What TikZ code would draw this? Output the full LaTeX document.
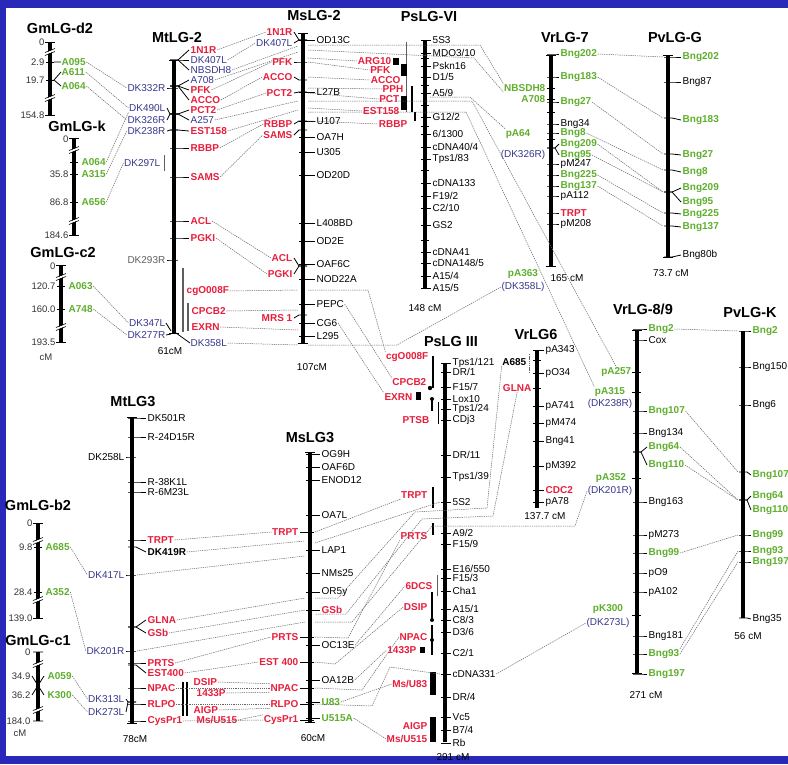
\documentclass[tikz,border=0pt]{standalone}
\usepackage{fontspec}
\setmainfont{Liberation Sans}
\definecolor{fondo}{RGB}{40,40,185}
\definecolor{rojo}{RGB}{232,30,60}
\definecolor{verde}{RGB}{95,175,45}
\definecolor{azul}{RGB}{55,55,140}
\definecolor{gris}{RGB}{95,95,95}
\tikzset{
    cromo/.style={line width=4pt},
    marca/.style={line width=0.8pt},
    segmento/.style={line width=1.3pt},
    mnegro/.style={inner sep=0.5pt, font=\fontsize{10}{11}\selectfont},
    mnegrob/.style={inner sep=0.5pt, font=\bfseries\fontsize{10}{11}\selectfont},
    mrojo/.style={inner sep=0.5pt, text=rojo, font=\bfseries\fontsize{10}{11}\selectfont},
    mverde/.style={inner sep=0.5pt, text=verde, font=\bfseries\fontsize{10}{11}\selectfont},
    mazul/.style={inner sep=0.5pt, text=azul, font=\fontsize{10}{11}\selectfont},
    mgris/.style={inner sep=0.5pt, text=gris, font=\fontsize{10}{11}\selectfont},
    mnum/.style={inner sep=0.5pt, text=black!80, font=\fontsize{9.5}{10}\selectfont},
    titulo/.style={inner sep=1pt, font=\bfseries\fontsize{14.5}{16}\selectfont},
    pie/.style={font=\fontsize{10}{11}\selectfont},
    enlace/.style={black!60, line width=0.5pt, dash pattern=on 1.3pt off 0.9pt}
}

\begin{document}
\begin{tikzpicture}[x=1pt, y=-1pt]

    % Fondo
    \useasboundingbox (0,0) rectangle (788,764);
    \fill[fondo] (0,0) rectangle (788,764);
    \fill[white] (6,8) rectangle (788,756);

    % GmLG-d2
    \node[titulo] (td2) at (60,28) {GmLG-d2};
    \draw[cromo] (50,42) -- (50,115);
    \draw[marca] (45,42) -- (55,42) (45,115) -- (55,115) (46,62) -- (54,62) (46,80) -- (54,80);
    \foreach \y/\txt [count=\i] in {42/0, 62/2.9, 80/19.7, 115/154.8}
        \node[mnum, anchor=east] (d2n\i) at (45,\y) {\txt};
    \node[mverde, anchor=west] (d2r1) at (61,62) {A095};
    \node[mverde, anchor=west] (d2r2) at (61,72) {A611};
    \node[mverde, anchor=west] (d2r3) at (61,86) {A064};
    \draw[marca] (54,62) -- (d2r1.west) (54,80) -- (d2r2.west) (54,80) -- (d2r3.west);
    \foreach \y in {52,98} {
        \draw[white, line width=2pt] (45,\y+2) -- (55,\y-2);
        \draw[line width=0.6pt] (45,\y+3.5) -- (55,\y-0.5) (45,\y+0.5) -- (55,\y-3.5);
    }

    % GmLG-k
    \node[titulo] (tk) at (77,126) {GmLG-k};
    \draw[cromo] (74,138) -- (74,235);
    \draw[marca] (69,138) -- (79,138) (69,235) -- (79,235) (70,162) -- (78,162) (70,174) -- (78,174) (70,202) -- (78,202);
    \foreach \y/\txt [count=\i] in {139/0, 174/35.8, 202/86.8, 235/184.6}
        \node[mnum, anchor=east] (kn\i) at (69,\y) {\txt};
    \node[mverde, anchor=west] (kr1) at (81,162) {A064};
    \node[mverde, anchor=west] (kr2) at (81,174) {A315};
    \node[mverde, anchor=west] (kr3) at (81,202) {A656};
    \foreach \y in {150,221} {
        \draw[white, line width=2pt] (69,\y+2) -- (79,\y-2);
        \draw[line width=0.6pt] (69,\y+3.5) -- (79,\y-0.5) (69,\y+0.5) -- (79,\y-3.5);
    }

    % GmLG-c2
    \node[titulo] (tc2) at (63,253) {GmLG-c2};
    \draw[cromo] (61,265) -- (61,342);
    \draw[marca] (56,265) -- (66,265) (56,342) -- (66,342) (57,286) -- (65,286) (57,309) -- (65,309);
    \foreach \y/\txt [count=\i] in {266/0, 286/120.7, 309/160.0, 342/193.5}
        \node[mnum, anchor=east] (c2n\i) at (56,\y) {\txt};
    \node[mnum] (c2cm) at (46,357) {cM};
    \node[mverde, anchor=west] (c2r1) at (68,286) {A063};
    \node[mverde, anchor=west] (c2r2) at (68,309) {A748};
    \foreach \y in {277,327} {
        \draw[white, line width=2pt] (56,\y+2) -- (66,\y-2);
        \draw[line width=0.6pt] (56,\y+3.5) -- (66,\y-0.5) (56,\y+0.5) -- (66,\y-3.5);
    }

    % GmLG-b2
    \node[titulo] (tb2) at (38,505) {GmLG-b2};
    \draw[cromo] (38,523) -- (38,618);
    \draw[marca] (33,523) -- (43,523) (33,618) -- (43,618) (34,547) -- (42,547) (34,592) -- (42,592);
    \foreach \y/\txt [count=\i] in {523/0, 547/9.8, 592/28.4, 618/139.0}
        \node[mnum, anchor=east] (b2n\i) at (33,\y) {\txt};
    \node[mverde, anchor=west] (b2r1) at (45,547) {A685};
    \node[mverde, anchor=west] (b2r2) at (45,592) {A352};
    \foreach \y in {541,600} {
        \draw[white, line width=2pt] (33,\y+2) -- (43,\y-2);
        \draw[line width=0.6pt] (33,\y+3.5) -- (43,\y-0.5) (33,\y+0.5) -- (43,\y-3.5);
    }

    % GmLG-c1
    \node[titulo] (tc1) at (38,640) {GmLG-c1};
    \draw[cromo] (38,652) -- (38,721);
    \draw[marca] (33,652) -- (43,652) (33,721) -- (43,721) (32,676) -- (44,695) (32,695) -- (44,676);
    \foreach \y/\txt [count=\i] in {652/0, 676/34.9, 695/36.2, 721/184.0}
        \node[mnum, anchor=east] (c1n\i) at (31,\y) {\txt};
    \node[mnum] (c1cm) at (20,733) {cM};
    \node[mverde, anchor=west] (c1r1) at (47,676) {A059};
    \node[mverde, anchor=west] (c1r2) at (47,695) {K300};
    \foreach \y in {664,710} {
        \draw[white, line width=2pt] (33,\y+2) -- (43,\y-2);
        \draw[line width=0.6pt] (33,\y+3.5) -- (43,\y-0.5) (33,\y+0.5) -- (43,\y-3.5);
    }

    % MtLG-2
    \node[titulo] (tmt2) at (177,38) {MtLG-2};
    \draw[cromo] (174,60) -- (174,333);
    \draw[marca] (169,60) -- (179,60) (169,333) -- (179,333);
    \foreach \ty/\ly/\txt/\st [count=\i] in {60/50/1N1R/mrojo, 60/60/DK407L/mazul, 60/70/NBSDH8/mazul, 86/80/A708/mazul, 86/90/PFK/mrojo, 86/100/ACCO/mrojo, 114/110/PCT2/mrojo, 114/120/A257/mazul, 130/131/EST158/mrojo, 148/148/RBBP/mrojo, 177/177/SAMS/mrojo, 221/221/ACL/mrojo, 238/238/PGKI/mrojo} {
        \draw[marca] (170,\ty) -- (178,\ty) -- (189,\ly);
        \node[\st, anchor=west] (mt2r\i) at (190,\ly) {\txt};
    }
    \foreach \ty/\ly/\txt/\st [count=\i] in {88/88/DK332R/mazul, 114/108/DK490L/mazul, 114/120/DK326R/mazul, 130/131/DK238R/mazul, 260/260/DK293R/mgris} {
        \draw[marca] (178,\ty) -- (170,\ty) -- (167,\ly);
        \node[\st, anchor=east] (mt2l\i) at (166,\ly) {\txt};
    }
    \node[mazul, anchor=east] (mt2l6) at (161,163) {DK297L};
    \draw[gris, line width=1pt] (164,155) -- (164,171);
    \node[mazul, anchor=east] (mt2l7) at (166,323) {DK347L};
    \node[mazul, anchor=east] (mt2l8) at (166,335) {DK277R};
    \draw[marca] (mt2l7.east) -- (171,331) (mt2l8.east) -- (171,334);
    \draw[gris, line width=1.2pt] (183,268) -- (183,332) (188,303) -- (188,331);
    \node[mrojo, anchor=west] (mt2r14) at (186,291) {cgO008F};
    \node[mrojo, anchor=west] (mt2r15) at (191,311) {CPCB2};
    \node[mrojo, anchor=west] (mt2r16) at (191,327) {EXRN};
    \node[mazul, anchor=west] (mt2r17) at (190,343) {DK358L};
    \draw[marca] (176,333) -- (mt2r17.west);
    \node[pie] (mt2cm) at (170,351) {61cM};

    % MsLG-2
    \node[titulo] (tms2) at (314,16) {MsLG-2};
    \draw[cromo] (303,33) -- (303,343);
    \draw[marca] (298,33) -- (308,33) (298,343) -- (308,343);
    \foreach \y/\txt [count=\i] in {40/OD13C, 92/L27B, 121/U107, 137/OA7H, 152/U305, 175/OD20D, 223/L408BD, 241/OD2E, 264/OAF6C, 279/NOD22A, 304/PEPC, 323/CG6, 336/L295} {
        \draw[marca] (299,\y) -- (315,\y);
        \node[mnegro, anchor=west] (ms2r\i) at (316,\y) {\txt};
    }
    \foreach \ty/\ly/\txt/\st [count=\i] in {40/32/1N1R/mrojo, 40/43/DK407L/mazul, 62/62/PFK/mrojo, 80/77/ACCO/mrojo, 92/93/PCT2/mrojo, 121/124/RBBP/mrojo, 130/135/SAMS/mrojo, 266/258/ACL/mrojo, 266/274/PGKI/mrojo, 315/318/MRS 1/mrojo} {
        \draw[marca] (307,\ty) -- (299,\ty) -- (294,\ly);
        \node[\st, anchor=east] (ms2l\i) at (293,\ly) {\txt};
    }
    \node[pie] (ms2cm) at (312,367) {107cM};
    \foreach \y in {46,52,101,110,290,310,330,345}
        \coordinate (ms2c\y) at (298,\y);
    \foreach \y in {45,50,58,62,77,88,93,101,108,112,121,290,345}
        \coordinate (ms2d\y) at (308,\y);

    % PsLG-VI
    \node[titulo] (tps6) at (429,17) {PsLG-VI};
    \draw[cromo] (425,40) -- (425,288);
    \foreach \y/\txt [count=\i] in {40/5S3, 53/{MDO3/10}, 66/Pskn16, 77/{D1/5}, 93/{A5/9}, 117/{G12/2}, 134/{6/1300}, 147/{cDNA40/4}, 159/{Tps1/83}, 183/cDNA133, 196/{F19/2}, 208/{C2/10}, 225/GS2, 252/cDNA41, 263/{cDNA148/5}, 276/{A15/4}, 288/{A15/5}} {
        \draw[marca] (421,\y) -- (431,\y);
        \node[mnegro, anchor=west] (psr\i) at (432,\y) {\txt};
    }
    \foreach \y in {58,85,105,126,170,240}
        \draw[marca] (421,\y) -- (429,\y);
    \node[pie] (ps6cm) at (425,308) {148 cM};
    \node[mrojo, anchor=east] (psl1) at (392,61) {ARG10};
    \node[mrojo, anchor=east] (psl2) at (391,70) {PFK};
    \node[mrojo, anchor=east] (psl3) at (401,80) {ACCO};
    \node[mrojo, anchor=east] (psl4) at (404,89) {PPH};
    \node[mrojo, anchor=east] (psl5) at (400,99) {PCT};
    \node[mrojo, anchor=east] (psl6) at (400,111) {EST158};
    \node[mrojo, anchor=east] (psl7) at (408,124) {RBBP};
    \draw[gris, line width=1pt] (406,42) -- (406,112);
    \fill (393,58) rectangle (399,65);
    \fill (401,64) rectangle (407,76);
    \draw[segmento] (412,86) -- (412,112);
    \fill (401,96) rectangle (407,110);
    \draw[segmento] (415,112) -- (415,121);
    \coordinate (psd97) at (430,97);

    % VrLG-7
    \node[titulo] (tvr7) at (565,38) {VrLG-7};
    \draw[cromo] (551,55) -- (551,266);
    \draw[marca] (546,55) -- (556,55) (546,266) -- (556,266);
    \foreach \ty/\ly/\txt/\st [count=\i] in {54/54/Bng202/mverde, 77/77/Bng183/mverde, 102/102/Bng27/mverde, 124/124/Bng34/mnegro, 133/133/Bng8/mverde, 148/144/Bng209/mverde, 148/155/Bng95/mverde, 164/164/pM247/mnegro, 175/175/Bng225/mverde, 186/186/Bng137/mverde, 196/196/pA112/mnegro, 213/213/TRPT/mrojo, 224/224/pM208/mnegro} {
        \draw[marca] (547,\ty) -- (555,\ty) -- (559,\ly);
        \node[\st, anchor=west] (vr7r\i) at (560,\ly) {\txt};
    }
    \foreach \y in {88,99,112,139}
        \draw[marca] (547,\y) -- (555,\y);
    \node[mverde, anchor=east] (vr7l1) at (546,88) {NBSDH8};
    \node[mverde, anchor=east] (vr7l2) at (546,99) {A708};
    \node[mverde] (vr7l3) at (518,134) {pA64};
    \node[mazul] (vr7l4) at (523,155) {(DK326R)};
    \node[mverde] (vr7l5) at (523,274) {pA363};
    \node[mazul] (vr7l6) at (523,287) {(DK358L)};
    \node[pie] (vr7cm) at (567,278) {165 cM};

    % PvLG-G
    \node[titulo] (tpvg) at (675,38) {PvLG-G};
    \draw[cromo] (668,55) -- (668,257);
    \draw[marca] (663,55) -- (673,55) (663,257) -- (673,257);
    \foreach \ty/\ly/\txt/\st [count=\i] in {57/57/Bng202/mverde, 82/82/Bng87/mnegro, 118/120/Bng183/mverde, 154/155/Bng27/mverde, 170/172/Bng8/mverde, 192/188/Bng209/mverde, 192/202/Bng95/mverde, 213/214/Bng225/mverde, 226/227/Bng137/mverde, 257/255/Bng80b/mnegro} {
        \draw[marca] (664,\ty) -- (672,\ty) -- (681,\ly);
        \coordinate (pga\i) at (663,\ty);
        \node[\st, anchor=west] (pgr\i) at (682,\ly) {\txt};
    }
    \node[pie] (pvgcm) at (671,273) {73.7 cM};

    % VrLG-8/9
    \node[titulo] (tvr89) at (643,309) {VrLG-8/9};
    \draw[cromo] (637,330) -- (637,673);
    \draw[marca] (632,330) -- (642,330) (632,673) -- (642,673);
    \foreach \ty/\ly/\txt/\st [count=\i] in {329/329/Bng2/mverde, 340/340/Cox/mnegro, 411/411/Bng107/mverde, 433/433/Bng134/mnegro, 452/447/Bng64/mverde, 452/465/Bng110/mverde, 502/502/Bng163/mnegro, 535/535/pM273/mnegro, 553/553/Bng99/mverde, 573/573/pO9/mnegro, 592/592/pA102/mnegro, 636/636/Bng181/mnegro, 654/654/Bng93/mverde, 674/674/Bng197/mverde} {
        \draw[marca] (633,\ty) -- (641,\ty) -- (647,\ly);
        \node[\st, anchor=west] (v8r\i) at (648,\ly) {\txt};
    }
    \foreach \y in {372,392,478,615}
        \draw[marca] (632,\y) -- (641,\y);
    \node[mverde, anchor=east] (v8l1) at (632,372) {pA257};
    \node[mverde] (v8l2) at (610,392) {pA315};
    \node[mazul] (v8l3) at (610,404) {(DK238R)};
    \node[mverde] (v8l4) at (611,478) {pA352};
    \node[mazul] (v8l5) at (610,491) {(DK201R)};
    \node[mverde] (v8l6) at (608,609) {pK300};
    \node[mazul] (v8l7) at (608,623) {(DK273L)};
    \node[pie] (v89cm) at (646,695) {271 cM};

    % PvLG-K
    \node[titulo] (tpvk) at (750,313) {PvLG-K};
    \draw[cromo] (743,331) -- (743,618);
    \foreach \ty/\ly/\txt/\st [count=\i] in {331/331/Bng2/mverde, 367/367/Bng150/mnegro, 405/405/Bng6/mnegro, 472/475/Bng107/mverde, 500/496/Bng64/mverde, 500/510/Bng110/mverde, 535/535/Bng99/mverde, 551/551/Bng93/mverde, 562/562/Bng197/mverde, 618/619/Bng35/mnegro} {
        \draw[marca] (739,\ty) -- (747,\ty) -- (751,\ly);
        \coordinate (pka\i) at (738,\ty);
        \node[\st, anchor=west] (pkr\i) at (752,\ly) {\txt};
    }
    \node[pie] (pvkcm) at (748,636) {56 cM};

    % VrLG6
    \node[titulo] (tvr6) at (536,335) {VrLG6};
    \draw[cromo] (537,350) -- (537,508);
    \foreach \y/\txt/\st [count=\i] in {350/pA343/mnegro, 373/pO34/mnegro, 406/pA741/mnegro, 423/pM474/mnegro, 441/Bng41/mnegro, 466/pM392/mnegro, 490/CDC2/mrojo, 502/pA78/mnegro} {
        \draw[marca] (533,\y) -- (544,\y);
        \node[\st, anchor=west] (v6r\i) at (545,\y) {\txt};
    }
    \foreach \y in {360,388}
        \draw[marca] (533,\y) -- (541,\y);
    \node[mnegrob, anchor=east] (v6l1) at (527,362) {A685};
    \node[mrojo, anchor=east] (v6l2) at (532,388) {GLNA};
    \draw[enlace] (529,354) -- (529,372);
    \node[pie] (v6cm) at (545,516) {137.7 cM};

    % PsLG III
    \node[titulo] (tps3) at (451,342) {PsLG III};
    \draw[cromo] (445,363) -- (445,742);
    \foreach \y/\txt [count=\i] in {363/{Tps1/121}, 372/{DR/1}, 387/{F15/7}, 399/Lox10, 409/{Tps1/24}, 420/CDj3, 455/{DR/11}, 477/{Tps1/39}, 502/5S2, 533/{A9/2}, 544/{F15/9}, 569/{E16/550}, 578/{F15/3}, 591/Cha1, 609/{A15/1}, 620/{C8/3}, 632/{D3/6}, 653/{C2/1}, 674/cDNA331, 697/{DR/4}, 717/Vc5, 730/{B7/4}, 743/Rb} {
        \draw[marca] (441,\y) -- (451,\y);
        \coordinate (p3a\i) at (440,\y);
        \node[mnegro, anchor=west] (p3r\i) at (452,\y) {\txt};
    }
    \node[mrojo, anchor=east] (p3l1) at (429,357) {cgO008F};
    \node[mrojo, anchor=east] (p3l2) at (427,382) {CPCB2};
    \node[mrojo, anchor=east] (p3l3) at (413,397) {EXRN};
    \node[mrojo, anchor=east] (p3l4) at (430,420) {PTSB};
    \node[mrojo, anchor=east] (p3l5) at (428,495) {TRPT};
    \node[mrojo, anchor=east] (p3l6) at (428,536) {PRTS};
    \node[mrojo, anchor=east] (p3l7) at (433,586) {6DCS};
    \node[mrojo, anchor=east] (p3l8) at (428,607) {DSIP};
    \node[mrojo, anchor=east] (p3l9) at (428,637) {NPAC};
    \node[mrojo, anchor=east] (p3l10) at (417,650) {1433P};
    \node[mrojo, anchor=east] (p3l11) at (428,684) {Ms/U83};
    \node[mrojo, anchor=east] (p3l12) at (428,726) {AIGP};
    \node[mrojo, anchor=east] (p3l13) at (428,739) {Ms/U515};
    \draw[segmento] (433,356) -- (433,388);
    \fill (430,388) circle (2.2pt) (432,399) circle (2pt);
    \fill (416,392) rectangle (421,400);
    \draw[segmento] (432,399) -- (432,411);
    \draw[marca] (438,402) -- (438,424);
    \draw[segmento] (433,487) -- (433,508);
    \draw[line width=2.5pt] (433,523) -- (433,535);
    \draw[gris, line width=1pt] (437,575) -- (437,596);
    \draw[segmento] (432,592) -- (432,620) (432,625) -- (432,655);
    \fill (432,620) circle (2pt) (432,640) circle (2pt);
    \fill (420,647) rectangle (425,653);
    \fill (429.5,672) rectangle (435.5,695);
    \fill (429.5,717) rectangle (435.5,742);
    \node[pie] (p3cm) at (453,757) {291 cM};

    % MtLG3
    \node[titulo] (tmt3) at (133,402) {MtLG3};
    \draw[cromo] (132,417) -- (132,723);
    \draw[marca] (127,417) -- (137,417) (127,723) -- (137,723);
    \foreach \ty/\ly/\txt/\st [count=\i] in {418/418/DK501R/mnegro, 437/437/R-24D15R/mnegro, 482/482/R-38K1L/mnegro, 492/492/R-6M23L/mnegro, 540/540/TRPT/mrojo, 547/552/DK419R/mnegrob, 627/620/GLNA/mrojo, 627/633/GSb/mrojo, 663/663/PRTS/mrojo, 665/673/EST400/mrojo, 688/688/NPAC/mrojo, 704/704/RLPO/mrojo, 721/721/CysPr1/mrojo} {
        \draw[marca] (128,\ty) -- (136,\ty) -- (146,\ly);
        \node[\st, anchor=west] (mt3r\i) at (147,\ly) {\txt};
    }
    \foreach \ty/\ly/\txt/\st [count=\i] in {457/457/DK258L/mnegro, 575/575/DK417L/mazul, 651/651/DK201R/mazul, 702/699/DK313L/mazul, 702/712/DK273L/mazul} {
        \draw[marca] (136,\ty) -- (128,\ty) -- (126,\ly);
        \coordinate (mt3b\i) at (137,\ty);
        \node[\st, anchor=east] (mt3l\i) at (125,\ly) {\txt};
    }
    \node[pie] (mt3cm) at (135,739) {78cM};

    % MsLG3
    \node[titulo] (tms3) at (310,438) {MsLG3};
    \draw[cromo] (310,452) -- (310,722);
    \draw[marca] (305,452) -- (315,452) (305,722) -- (315,722);
    \foreach \y/\txt/\st [count=\i] in {454/OG9H/mnegro, 467/OAF6D/mnegro, 480/ENOD12/mnegro, 515/OA7L/mnegro, 550/LAP1/mnegro, 573/NMs25/mnegro, 592/OR5y/mnegro, 610/GSb/mrojo, 645/OC13E/mnegro, 680/OA12B/mnegro, 702/U83/mverde, 718/U515A/mverde} {
        \draw[marca] (306,\y) -- (320,\y);
        \coordinate (ms3a\i) at (305,\y);
        \node[\st, anchor=west] (ms3r\i) at (321,\y) {\txt};
    }
    \foreach \y/\txt [count=\i] in {532/TRPT, 637/PRTS, 662/EST 400, 688/NPAC, 704/RLPO, 720/CysPr1} {
        \draw[marca] (314,\y) -- (300,\y);
        \coordinate (ms3b\i) at (315,\y);
        \node[mrojo, anchor=east] (ms3l\i) at (299,\y) {\txt};
    }
    \node[pie] (ms3cm) at (313,738) {60cM};
    \foreach \y in {541,556,598,622}
        \coordinate (ms3c\y) at (305,\y);
    \foreach \y in {543,598,614,622}
        \coordinate (ms3d\y) at (315,\y);
    \node[mrojo, anchor=west] (msm1) at (193,682) {DSIP};
    \node[mrojo, anchor=west] (msm2) at (196,693) {1433P};
    \node[mrojo, anchor=west] (msm3) at (193,710) {AIGP};
    \node[mrojo, anchor=west] (msm4) at (196,720) {Ms/U515};
    \draw[segmento] (183,682) -- (183,716) (187,682) -- (187,716);

    % Conexiones Gm - Mt
    \draw[enlace] (d2r1.east) -- (mt2l1.west);
    \draw[enlace] (d2r2.east) -- (mt2l2.west);
    \draw[enlace] (d2r3.east) -- (mt2l3.west);
    \draw[enlace] (kr1.east) -- (mt2l2.south west);
    \draw[enlace] (kr2.east) -- (mt2l4.west);
    \draw[enlace] (kr3.east) -- (mt2l6.west);
    \draw[enlace] (c2r1.east) -- (mt2l7.west);
    \draw[enlace] (c2r2.east) -- (mt2l8.west);
    \draw[enlace] (b2r1.east) -- (mt3l2.west);
    \draw[enlace] (b2r2.east) -- (mt3l3.west);
    \draw[enlace] (c1r1.east) -- (mt3l4.west);
    \draw[enlace] (c1r2.east) -- (mt3l5.west);

    % Conexiones MtLG-2 - MsLG-2
    \draw[enlace] (mt2r1.east) -- (ms2l1.west);
    \draw[enlace] (mt2r2.east) -- (ms2l2.west);
    \draw[enlace] (mt2r3.east) -- (ms2c46);
    \draw[enlace] (mt2r4.east) -- (ms2c52);
    \draw[enlace] (mt2r5.east) -- (ms2l3.west);
    \draw[enlace] (mt2r6.east) -- (ms2l4.west);
    \draw[enlace] (mt2r7.east) -- (ms2l5.west);
    \draw[enlace] (mt2r8.east) -- (ms2c101);
    \draw[enlace] (mt2r9.east) -- (ms2c110);
    \draw[enlace] (mt2r10.east) -- (ms2l6.west);
    \draw[enlace] (mt2r11.east) -- (ms2l7.west);
    \draw[enlace] (mt2r12.east) -- (ms2l8.west);
    \draw[enlace] (mt2r13.east) -- (ms2l9.west);
    \draw[enlace] (mt2r14.east) -- (ms2c290);
    \draw[enlace] (mt2r15.east) -- (ms2c310);
    \draw[enlace] (mt2r16.east) -- (ms2c330);
    \draw[enlace] (mt2r17.east) -- (ms2c345);

    % Conexiones MsLG-2 - PsLG-VI - Vr
    \draw[enlace] (ms2d58) -- (psl1.west);
    \draw[enlace] (ms2d62) -- (psl2.west);
    \draw[enlace] (ms2d77) -- (psl3.west);
    \draw[enlace] (ms2d88) -- (psl4.west);
    \draw[enlace] (ms2d93) -- (psl5.west);
    \draw[enlace] (ms2d108) -- (psl6.west);
    \draw[enlace] (ms2d121) -- (psl7.west);
    \draw[enlace] (ms2d45) -- (480,45) -- (vr7l1.north west);
    \draw[enlace] (ms2d50) -- (474,58) -- (vr7l1.south west);
    \draw[enlace] (psd97) -- (470,97) -- (vr7l3.north west);
    \draw[enlace] (ms2d101) -- (472,101) -- (v8l1.north);
    \draw[enlace] (ms2d112) -- (466,112) -- (v8l2.north west);
    \draw[enlace] (ms2d345) -- (397,345) -- (vr7l6.west);
    \draw[enlace] (ms2d290) -- (368,290) -- (p3l1.north west);
    \draw[enlace] (ms2r11.east) -- (p3l2.north west);
    \draw[enlace] (ms2r12.east) -- (p3l3.north west);

    % Conexiones Vr - Pv
    \draw[enlace] (vr7r1.east) -- (pga1);
    \draw[enlace] (vr7r2.east) -- (pga3);
    \draw[enlace] (vr7r3.east) -- (pga4);
    \draw[enlace] (vr7r5.east) -- (pga5);
    \draw[enlace] (vr7r6.east) -- (pga6);
    \draw[enlace] (vr7r7.east) -- (pga7);
    \draw[enlace] (vr7r9.east) -- (pga8);
    \draw[enlace] (vr7r10.east) -- (pga9);
    \draw[enlace] (v8r1.east) -- (pka1);
    \draw[enlace] (v8r3.east) -- (pka4);
    \draw[enlace] (v8r5.east) -- (pka5);
    \draw[enlace] (v8r6.east) -- (pka6);
    \draw[enlace] (v8r9.east) -- (pka7);
    \draw[enlace] (v8r13.north east) -- (pka8);
    \draw[enlace] (v8r13.east) -- (pka9);

    % Conexiones MtLG3 - MsLG3
    \draw[enlace] (mt3r5.east) -- (ms3l1.west);
    \draw[enlace] (mt3r6.east) -- (ms3c541);
    \draw[enlace] (mt3b2) -- (ms3c556);
    \draw[enlace] (mt3r7.east) -- (ms3c598);
    \draw[enlace] (mt3r8.east) -- (ms3a8);
    \draw[enlace] (mt3b3) -- (ms3c622);
    \draw[enlace] (mt3r9.east) -- (ms3l2.west);
    \draw[enlace] (mt3r10.east) -- (ms3l3.west);
    \draw[enlace] (mt3r11.east) -- (ms3l4.west);
    \draw[enlace] (mt3r12.east) -- (ms3l5.west);
    \draw[enlace] (mt3r13.east) -- (ms3l6.west);
    \draw[enlace] (msm1.east) -- (ms3l4.north west);
    \draw[enlace] (msm2.east) -- (ms3l4.south west);
    \draw[enlace] (msm3.east) -- (ms3l5.south west);
    \draw[enlace] (msm4.east) -- (ms3l6.north west);

    % Conexiones MsLG3 - PsLG III - Vr
    \draw[enlace] (ms3b1) -- (p3l5.south west);
    \draw[enlace] (ms3d543) -- (p3a9);
    \draw[enlace] (v6l1.south west) -- (487,508) -- (415,512) -- (338,598) -- (ms3d598);
    \draw[enlace] (v6l2.south) -- (493,516) -- (422,519) -- (346,614) -- (ms3d614);
    \draw[enlace] (ms3d622) -- (352,622) -- (432,526) -- (575,526) -- (v8l5.west);
    \draw[enlace] (ms3b2) -- (348,638) -- (p3l6.south west);
    \draw[enlace] (ms3b3) -- (335,664) -- (p3l8.west);
    \draw[enlace] (ms3r9.east) -- (p3l7.west);
    \draw[enlace] (ms3b4) -- (362,690) -- (p3l9.west);
    \draw[enlace] (ms3r10.east) -- (p3l10.west);
    \draw[enlace] (ms3b5) -- (372,706) -- (390,667) -- (p3a19);
    \draw[enlace] (p3r19.east) -- (v8l7.west);
    \draw[enlace] (ms3r11.east) -- (p3l11.west);
    \draw[enlace] (ms3r12.east) -- (p3l13.west);

\end{tikzpicture}
\end{document}
